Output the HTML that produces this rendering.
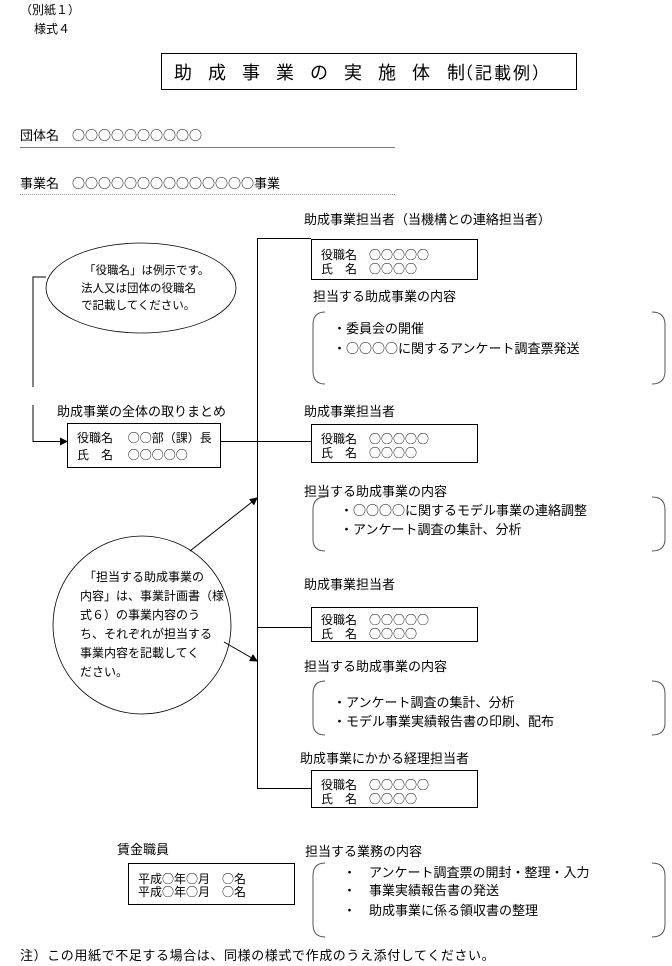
<!DOCTYPE html>
<html><head><meta charset="utf-8"><style>
html,body{margin:0;padding:0;background:#fff}
svg{display:block}
text{font-family:"Noto Sans CJK JP","Liberation Sans",sans-serif;font-size:13px;fill:#000}
.s{font-size:11.5px}
.c{font-size:12px}
</style></head><body>
<svg width="672" height="966" viewBox="0 0 672 966" xmlns="http://www.w3.org/2000/svg">
<defs><marker id="ar" markerWidth="8" markerHeight="8" refX="7" refY="4" orient="auto" markerUnits="userSpaceOnUse"><path d="M0,0 L8,4 L0,8 z" fill="#000"/></marker></defs>
<text x="20" y="14" class="c">（別紙１）</text>
<text x="34" y="33" class="c">様式４</text>
<rect x="161.5" y="53.5" width="415" height="36" fill="none" stroke="#000"/>
<text y="79" style="font-size:18px" letter-spacing="16"><tspan x="174">助成事業の実施体</tspan><tspan x="447" letter-spacing="0">制</tspan></text>
<text x="456" y="79" style="font-size:17px" letter-spacing="2">（記載例）</text>
<text x="20" y="140">団体名　○○○○○○○○○○</text>
<line x1="20" y1="147.5" x2="395" y2="147.5" stroke="#777"/>
<text x="20" y="188">事業名　○○○○○○○○○○○○○○事業</text>
<line x1="20" y1="194.5" x2="395" y2="194.5" stroke="#999" stroke-dasharray="1,1"/>
<line x1="257.5" y1="238" x2="257.5" y2="789" stroke="#000"/>
<line x1="257" y1="238.5" x2="311" y2="238.5" stroke="#000"/>
<line x1="221" y1="441.5" x2="311" y2="441.5" stroke="#000"/>
<line x1="257" y1="627.5" x2="311" y2="627.5" stroke="#000"/>
<line x1="257" y1="788.5" x2="311" y2="788.5" stroke="#000"/>
<text x="304" y="224">助成事業担当者（当機構との連絡担当者）</text>
<rect x="311.5" y="239.5" width="166" height="40" fill="#fff" stroke="#000"/>
<text x="321" y="259" class="c">役職名　○○○○○</text><text x="321" y="273" class="c">氏　名　○○○○</text>
<text x="313" y="301">担当する助成事業の内容</text>
<path d="M325,312 Q313,312 313,325 V371 Q313,384 325,384" fill="none" stroke="#555"/>
<path d="M652,312 Q665,312 665,325 V371 Q665,384 652,384" fill="none" stroke="#555"/>
<text x="333" y="333">・委員会の開催</text>
<text x="333" y="353">・○○○○に関するアンケート調査票発送</text>
<text x="304" y="416">助成事業担当者</text>
<rect x="311.5" y="424.5" width="166" height="38" fill="#fff" stroke="#000"/>
<text x="321" y="443" class="c">役職名　○○○○○</text><text x="321" y="457" class="c">氏　名　○○○○</text>
<text x="304" y="496">担当する助成事業の内容</text>
<path d="M325,497 Q313,497 313,510 V539 Q313,551 325,551" fill="none" stroke="#555"/>
<path d="M652,497 Q665,497 665,510 V539 Q665,551 652,551" fill="none" stroke="#555"/>
<text x="340" y="515">・○○○○に関するモデル事業の連絡調整</text>
<text x="340" y="534">・アンケート調査の集計、分析</text>
<text x="304" y="589">助成事業担当者</text>
<rect x="311.5" y="607.5" width="166" height="34" fill="#fff" stroke="#000"/>
<text x="321" y="624" class="c">役職名　○○○○○</text><text x="321" y="638" class="c">氏　名　○○○○</text>
<text x="304" y="671">担当する助成事業の内容</text>
<path d="M325,681 Q313,681 313,694 V723 Q313,735 325,735" fill="none" stroke="#555"/>
<path d="M652,681 Q665,681 665,694 V723 Q665,735 652,735" fill="none" stroke="#555"/>
<text x="333" y="707">・アンケート調査の集計、分析</text>
<text x="333" y="726">・モデル事業実績報告書の印刷、配布</text>
<text x="300" y="763">助成事業にかかる経理担当者</text>
<rect x="311.5" y="770.5" width="166" height="37" fill="#fff" stroke="#000"/>
<text x="321" y="789" class="c">役職名　○○○○○</text><text x="321" y="803" class="c">氏　名　○○○○</text>
<text x="117" y="854">賃金職員</text>
<rect x="128.5" y="863.5" width="166" height="41" fill="none" stroke="#000"/>
<text x="138" y="883" class="c">平成○年○月　○名</text><text x="138" y="896" class="c">平成○年○月　○名</text>
<text x="305" y="856">担当する業務の内容</text>
<path d="M325,863 Q313,863 313,876 V924 Q313,937 325,937" fill="none" stroke="#555"/>
<path d="M652,863 Q665,863 665,876 V924 Q665,937 652,937" fill="none" stroke="#555"/>
<text x="343" y="877">・　アンケート調査票の開封・整理・入力</text>
<text x="343" y="895">・　事業実績報告書の発送</text>
<text x="343" y="915">・　助成事業に係る領収書の整理</text>
<text x="20" y="960" letter-spacing="0.6">注）この用紙で不足する場合は、同様の様式で作成のうえ添付してください。</text>
<ellipse cx="141" cy="288" rx="95" ry="45" fill="#fff" stroke="#000" stroke-width="0.8"/>
<text x="84" y="274" class="s">「役職名」は例示です。</text>
<text x="81" y="292" class="s">法人又は団体の役職名</text>
<text x="81" y="309" class="s">で記載してください。</text>
<polyline points="46,277 33,277 33,387" fill="none" stroke="#000"/>
<polyline points="33,405 33,441.5 67,441.5" fill="none" stroke="#000" marker-end="url(#ar)"/>
<text x="57" y="416">助成事業の全体の取りまとめ</text>
<rect x="67.5" y="423.5" width="153" height="44" fill="#fff" stroke="#000"/>
<text x="77" y="442" class="c">役職名　 ○○部（課）長</text>
<text x="77" y="459" class="c">氏　名　 ○○○○○</text>
<circle cx="142" cy="625" r="89" fill="#fff" stroke="#000" stroke-width="0.8"/>
<text x="84" y="581" class="c">「担当する助成事業の</text>
<text x="80" y="600" class="c">内容」は、事業計画書（様</text>
<text x="80" y="619" class="c">式６）の事業内容のう</text>
<text x="80" y="638" class="c">ち、それぞれが担当する</text>
<text x="80" y="657" class="c">事業内容を記載してく</text>
<text x="80" y="676" class="c">ださい。</text>
<line x1="190" y1="551" x2="257" y2="498" stroke="#000" marker-end="url(#ar)"/>
<line x1="224" y1="642" x2="257" y2="661" stroke="#000" marker-end="url(#ar)"/>
</svg>
</body></html>
